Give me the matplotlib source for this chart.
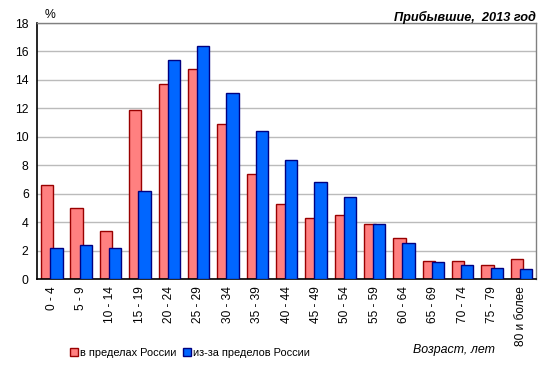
import matplotlib
matplotlib.use('Agg')
import matplotlib.pyplot as plt
import matplotlib.patches as patches
import numpy as np

plt.rcParams['font.family'] = ['Liberation Sans', 'DejaVu Sans']

# Возрастные группы
groups = ['0 - 4', '5 - 9', '10 - 14', '15 - 19', '20 - 24', '25 - 29', '30 - 34',
          '35 - 39', '40 - 44', '45 - 49', '50 - 54', '55 - 59', '60 - 64',
          '65 - 69', '70 - 74', '75 - 79', '80 и более']
inside_russia = [6.6, 5.0, 3.4, 11.9, 13.7, 14.8, 10.9, 7.4, 5.3, 4.3, 4.5, 3.9,
                 2.9, 1.3, 1.3, 1.0, 1.4]
outside_russia = [2.2, 2.4, 2.2, 6.2, 15.4, 16.4, 13.1, 10.4, 8.4, 6.8, 5.8, 3.9,
                  2.5, 1.2, 1.0, 0.8, 0.7]
y_ticks = [0, 2, 4, 6, 8, 10, 12, 14, 16, 18]

fig = plt.figure(figsize=(5.49, 3.77), dpi=100)
ax = fig.add_axes([37 / 549, 1 - 279 / 377, 499 / 549, 256 / 377])

x = np.arange(len(groups))
w = 0.42
ax.bar(x - 0.15, inside_russia, width=w, color='#FF8080', edgecolor='#990000',
       linewidth=1.0, zorder=2, label='в пределах России')
ax.bar(x + 0.16, outside_russia, width=w, color='#0066FF', edgecolor='#000080',
       linewidth=1.0, zorder=3, label='из-за пределов России')

ax.set_xlim(-0.5, len(groups) - 0.5)
ax.set_ylim(0, 18)
ax.set_yticks(y_ticks)
ax.set_xticks(x)
ax.set_xticklabels(groups, rotation=90, fontsize=8.6)
ax.tick_params(axis='y', labelsize=8.8, length=0, pad=6)
ax.tick_params(axis='x', length=0, pad=5)
ax.yaxis.grid(True, color='#BBBBBB', linewidth=1.0, zorder=0)
ax.set_axisbelow(True)

for s in ['top', 'right']:
    ax.spines[s].set_color('#808080')
    ax.spines[s].set_linewidth(1.0)
for s in ['left', 'bottom']:
    ax.spines[s].set_color('black')
    ax.spines[s].set_linewidth(1.2)

fig.text(45 / 549, 1 - 15 / 377, '%', fontsize=8.8, ha='left', va='center')
fig.text(536 / 549, 1 - 17 / 377, 'Прибывшие,  2013 год', fontsize=9.2,
         fontweight='bold', style='italic', ha='right', va='center')
fig.text(454 / 549, 1 - 350 / 377, 'Возраст, лет', fontsize=8.9, style='italic',
         ha='center', va='center')

handles = [patches.Patch(facecolor='#FF8080', edgecolor='#990000'),
           patches.Patch(facecolor='#0066FF', edgecolor='#000080')]
fig.legend(handles, ['в пределах России', 'из-за пределов России'],
           loc='center left', bbox_to_anchor=(66 / 549, 1 - 353 / 377), ncol=2,
           frameon=False, fontsize=7.9, handlelength=0.7, handleheight=0.7,
           handletextpad=0.2, columnspacing=0.6, borderaxespad=0)

fig.savefig('out.png', dpi=100)
